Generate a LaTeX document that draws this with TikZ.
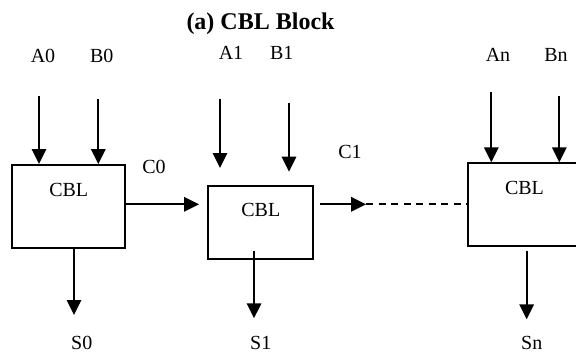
\documentclass[tikz,border=0pt]{standalone}
\usepackage{fontspec}
\setmainfont{Liberation Serif}
\usetikzlibrary{positioning, arrows.meta}

\begin{document}
\begin{tikzpicture}[
        x=0.5pt, y=-0.5pt, % coordinates in sketch pixels, y downwards
        block/.style={
            rectangle,
            draw,
            line width=1pt,
            minimum width=56.6pt,
            minimum height=41.3pt
        },
        sig/.style={inner sep=0pt, font=\fontsize{10}{12}\selectfont},
        line/.style={draw, -{Triangle[length=7.5pt, width=7.2pt]}, line width=1pt}
    ]
        \useasboundingbox (0,0) rectangle (576,352);

        % Title
        \node [font=\fontsize{12}{14}\selectfont\bfseries] (title) at (260.5,23.5) {(a) CBL Block};

        % Blocks
        \node [block] (cbl0) at (68.7,206.3) {};
        \node [block, minimum width=52.5pt, minimum height=36.6pt] (cbl1) at (260.8,222.3) {};
        \node [block] (cbln) at (524.5,204.7) {};
        \node [sig, below=9.2pt of cbl0.north] (cbl0text) {CBL};
        \node [sig, below=9.2pt of cbl1.north] (cbl1text) {CBL};
        \node [sig, below=9.2pt of cbln.north] (cblntext) {CBL};

        % Input labels
        \node [sig] (a0) at (43,56) {A0};
        \node [sig] (b0) at (101.7,56) {B0};
        \node [sig] (a1) at (231,53.3) {A1};
        \node [sig] (b1) at (281.7,53.3) {B1};
        \node [sig] (an) at (498,55) {An};
        \node [sig] (bn) at (556,55) {Bn};

        % Carry labels
        \node [sig] (c0) at (154,166.7) {C0};
        \node [sig] (c1) at (350,151.7) {C1};

        % Sum labels
        \node [sig] (s0) at (81.7,342.7) {S0};
        \node [sig] (s1) at (260.7,342.7) {S1};
        \node [sig] (sn) at (531.7,342.7) {Sn};

        % Arrow ends
        \coordinate (a0top) at (39,95.7);
        \coordinate (b0top) at (98.3,99);
        \coordinate (a1top) at (220,99);
        \coordinate (a1end) at (220,168);
        \coordinate (b1top) at (289,102.7);
        \coordinate (b1end) at (289,171.7);
        \coordinate (antop) at (491.3,92);
        \coordinate (bntop) at (559.3,96);
        \coordinate (c0end) at (199,204.3);
        \coordinate (c1start) at (320.3,204.3);
        \coordinate (c1end) at (366,204.3);
        \coordinate (s0end) at (74,315);
        \coordinate (s1start) at (254,250.7);
        \coordinate (s1end) at (254,318.3);
        \coordinate (snstart) at (526.7,250.7);
        \coordinate (snend) at (526.7,319.3);

        % Paths
        \path [line] (a0top) -- (a0top |- cbl0.north);
        \path [line] (b0top) -- (b0top |- cbl0.north);
        \path [line] (a1top) -- (a1end);
        \path [line] (b1top) -- (b1end);
        \path [line] (antop) -- (antop |- cbln.north);
        \path [line] (bntop) -- (bntop |- cbln.north);

        \path [line] (cbl0.east |- c0end) -- (c0end);
        \path [line] (c1start) -- (c1end);
        \draw [line width=0.9pt, dash pattern=on 3.5pt off 2.75pt] (c1end) -- (c1end -| cbln.west);

        \path [line] (s0end |- cbl0.south) -- (s0end);
        \path [line] (s1start) -- (s1end);
        \path [line] (snstart) -- (snend);
\end{tikzpicture}
\end{document}
